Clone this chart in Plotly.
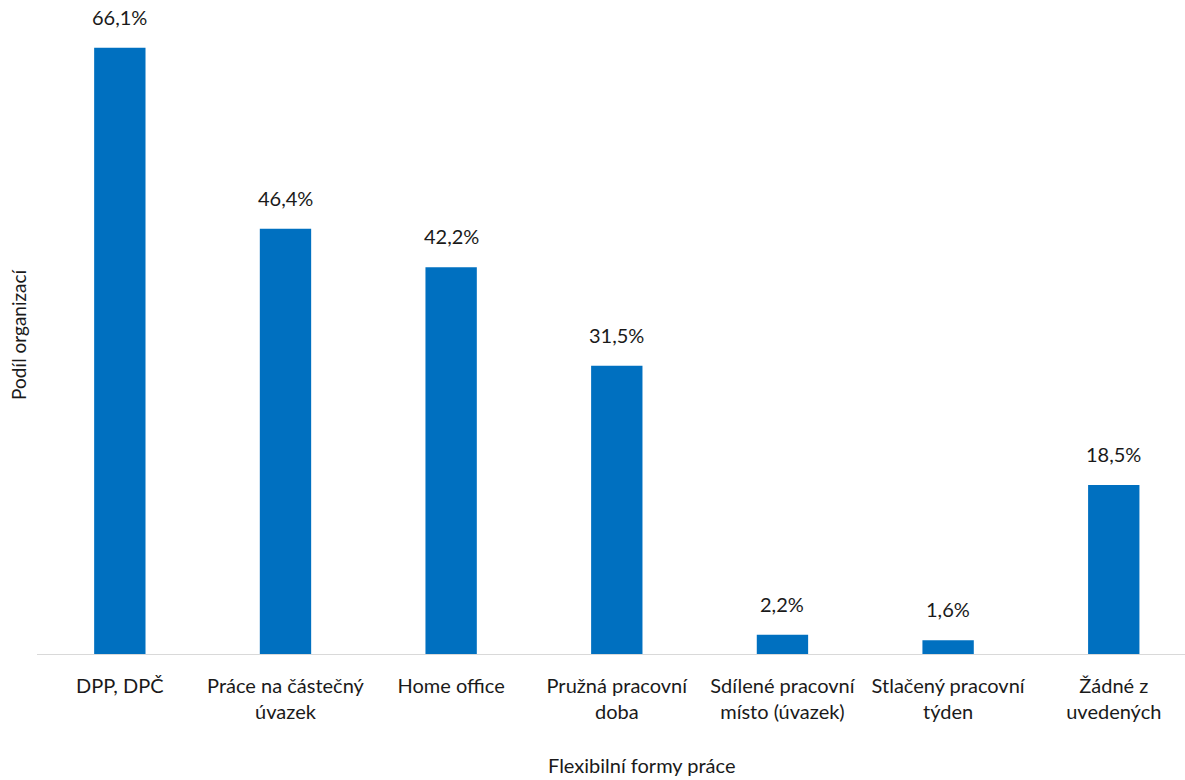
import plotly.graph_objects as go

categories = ["DPP, DPČ", "Práce na částečný<br>úvazek", "Home office", "Pružná pracovní<br>doba",
              "Sdílené pracovní<br>místo (úvazek)", "Stlačený pracovní<br>týden", "Žádné z<br>uvedených"]
values = [66.1, 46.4, 42.2, 31.5, 2.2, 1.6, 18.5]
labels = ["66,1%", "46,4%", "42,2%", "31,5%", "2,2%", "1,6%", "18,5%"]

FONT = "Lato, Open Sans, sans-serif"
x = list(range(len(categories)))

fig = go.Figure()
fig.add_trace(go.Bar(x=x, y=values, width=0.31, marker=dict(color="#0070C0", line=dict(width=0)),
                     hoverinfo="skip"))

for xi, v, lab in zip(x, values, labels):
    fig.add_annotation(x=xi, y=v, text=lab, showarrow=False, yanchor="bottom", yshift=17,
                       font=dict(family=FONT, size=20, color="#1a1a1a"))

fig.add_annotation(xref="paper", yref="paper", x=(641 - 37) / 1148, y=(655 - 765) / 643,
                   text="Flexibilní formy práce", showarrow=False, xanchor="center", yanchor="middle",
                   font=dict(family=FONT, size=20, color="#1a1a1a"))
fig.add_annotation(xref="paper", yref="paper", x=(18 - 37) / 1148, y=(655 - 334) / 643,
                   text="Podíl organizací", showarrow=False, textangle=-90, xanchor="center",
                   yanchor="middle", font=dict(family=FONT, size=19, color="#1a1a1a"))

fig.update_layout(
    width=1185, height=780,
    margin=dict(l=37, r=0, t=12, b=125),
    plot_bgcolor="white", paper_bgcolor="white",
    showlegend=False,
    xaxis=dict(range=[-0.5, 6.43], tickmode="array", tickvals=x, ticktext=categories,
               showgrid=False, zeroline=False, showline=False, ticks="",
               tickfont=dict(family=FONT, size=20, color="#1a1a1a"), ticklabelstandoff=17),
    yaxis=dict(range=[0, 70], showgrid=False, zeroline=False, showticklabels=False, showline=False),
    shapes=[dict(type="line", xref="paper", yref="y", x0=0, x1=1, y0=0, y1=0,
                 line=dict(color="#d9d9d9", width=2), layer="above")],
)

fig.write_html("out.html", config={"displayModeBar": False},
               post_script="document.body.style.margin='0';document.body.style.padding='0';")
